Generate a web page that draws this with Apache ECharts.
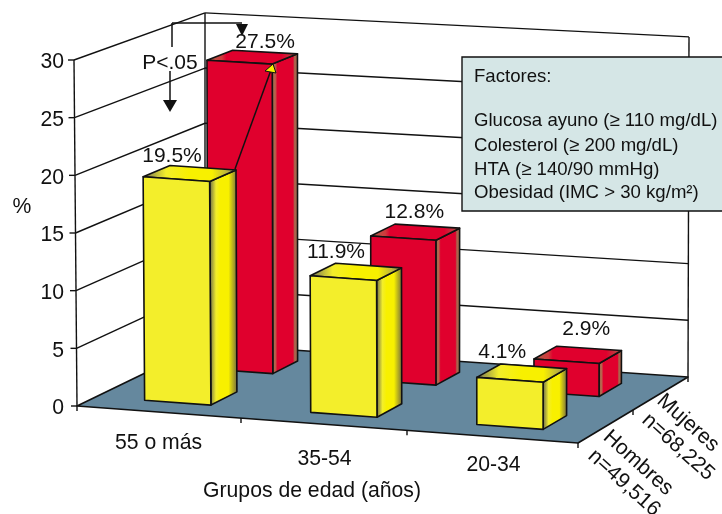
<!DOCTYPE html>
<html>
<head>
<meta charset="utf-8">
<style>html,body{margin:0;padding:0;background:#fff;overflow:hidden}#c{width:722px;height:514px}</style>
<script src="https://cdn.jsdelivr.net/npm/echarts@6/dist/echarts.min.js"></script>
</head>
<body>
<div id="c"></div>
<script>
const categories = ['55 o más', '35-54', '20-34'];
const hombres = [19.5, 11.9, 4.1];
const mujeres = [27.5, 12.8, 2.9];
const yTicks = [0, 5, 10, 15, 20, 25, 30];
const hombresLabel = ['Hombres', 'n=49,516'];
const mujeresLabel = ['Mujeres', 'n=68,225'];
const factores = ['Factores:', 'Glucosa ayuno (≥ 110 mg/dL)', 'Colesterol (≥ 200 mg/dL)', 'HTA (≥ 140/90 mmHg)', 'Obesidad (IMC > 30 kg/m²)'];

const FONT = '"Liberation Sans", Arial, sans-serif';
const AXIS_SIZE = 21.2;
const BLACK = '#111';
const LW = 1.4;

// depth projection of the floor, from the front plane of the grid into the chart's box
function floor(u, z) {
  return [77 + 501 * u + 128 * z - 18 * u * z, 406 + 37 * u - 62 * z - 4 * u * z];
}
function project(api, params, px, value, z) {
  const cs = params.coordSys;
  const u = (px - cs.x) / cs.width;
  const h = cs.y + cs.height - api.coord([0, value])[1];
  const f = floor(u, z);
  const s = 1 + z * (-0.043 + 0.026 * u);
  const lean = ((1 - u) * (1 - z) * -3 + u * z) * h / 346;
  return [f[0] + lean, f[1] - h * s];
}
const line = (a, b, w, c) => ({
  type: 'line',
  shape: {x1: a[0], y1: a[1], x2: b[0], y2: b[1]},
  style: {stroke: c || BLACK, lineWidth: w || LW}
});
const poly = (pts, fill, w) => ({
  type: 'polygon',
  shape: {points: pts},
  style: {fill: fill, stroke: BLACK, lineWidth: w || LW, lineJoin: 'round'}
});
const text = (t, x, y, size, rot) => ({
  type: 'text', x: x, y: y, rotation: rot || 0,
  style: {text: t, x: 0, y: 0, fill: BLACK, fontSize: size, fontFamily: FONT, align: 'center', verticalAlign: 'middle'}
});
const hgrad = (stops) => new echarts.graphic.LinearGradient(0, 0, 1, 0,
  stops.map(s => ({offset: s[0], color: s[1]})));

function renderFrame(params, api) {
  const cs = params.coordSys;
  const L = cs.x, R = cs.x + cs.width;
  const P = (px, v, z) => project(api, params, px, v, z);
  const kids = [];
  kids.push({type: 'polygon', shape: {points: [P(L, 0, 0), P(L, 30, 0), P(L, 30, 1), P(L, 0, 1)]}, style: {fill: '#fff'}});
  kids.push({type: 'polygon', shape: {points: [P(L, 0, 1), P(L, 30, 1), P(R, 30, 1), P(R, 0, 1)]}, style: {fill: '#fff'}});
  yTicks.forEach(t => {
    if (t > 0 && t < 30) {
      kids.push(line(P(L, t, 0), P(L, t, 1)));
      kids.push(line(P(L, t, 1), P(R, t, 1)));
    }
    const a = P(L, t, 0);
    kids.push(line([a[0] - 6, a[1]], a));
  });
  kids.push(line(P(L, 30, 0), P(L, 30, 1)));
  kids.push(line(P(L, 30, 1), P(R, 30, 1)));
  kids.push(line(P(L, 0, 0), P(L, 30, 0)));
  kids.push(line(P(L, 0, 1), P(L, 30, 1)));
  kids.push(line(P(R, 0, 1), P(R, 30, 1)));
  kids.push(poly([P(L, 0, 0), P(R, 0, 0), P(R, 0, 1), P(L, 0, 1)], '#65889E', 1.6));
  // ticks on the floor edges
  const band = cs.width / categories.length;
  for (let i = 0; i <= categories.length; i++) {
    const a = P(L + band * i - (i === 1 ? 3 : i === 2 ? 4 : 0), 0, 0);
    kids.push(line(a, [a[0], a[1] + 5]));
  }
  [0.5, 1].forEach(z => {
    const a = P(R, 0, z);
    kids.push(line(a, [a[0], a[1] + 5]));
  });
  return {type: 'group', children: kids};
}

// front-to-back position and look of each row of bars
const BAR_HALF = 0.0665;
const BAR_SHIFT = -1.5;
const hombresStyle = {
  z0: 0.15, z1: 0.36, front: '#F3EE2B',
  side: [[0, '#5c5a50'], [0.25, '#F3EE2B'], [0.4, '#F8F000'], [0.68, '#F8F000'], [1, '#6e6544']],
  top: [[0, '#6e6c58'], [0.25, '#F3EE2B'], [0.5, '#F8F000'], [0.74, '#F8F000'], [1, '#8f8768']]
};
const mujeresStyle = {
  z0: 0.65, z1: 0.85, front: '#E0002D',
  side: [[0, '#8a6a52'], [0.14, '#b9654c'], [0.22, '#E0002D'], [0.8, '#E0002D'], [0.86, '#a9654c'], [1, '#a9654c']],
  top: [[0, '#a9654c'], [0.17, '#d03a3c'], [0.22, '#E0002D'], [0.82, '#E0002D'], [1, '#a9654c']]
};
// nudges of the value labels, [dx, dy] from the rear-top-centre of the bar
const hombresNudge = [[-31, -12], [-32.5, -13.5], [-31.5, -14.5]];
const mujeresNudge = [[0, -10], [-13, -14], [-3, -19.5]];

function barRenderer(st, nudges) {
  return function (params, api) {
    const i = api.value(0), v = api.value(1);
    const cs = params.coordSys;
    const cx = api.coord([i, 0])[0] + BAR_SHIFT;
    const hw = BAR_HALF * cs.width;
    const P = (px, val, z) => project(api, params, px, val, z);
    const x0 = cx - hw, x1 = cx + hw;
    const fbl = P(x0, 0, st.z0), fbr = P(x1, 0, st.z0), bbr = P(x1, 0, st.z1);
    const ftl = P(x0, v, st.z0), ftr = P(x1, v, st.z0), btr = P(x1, v, st.z1), btl = P(x0, v, st.z1);
    const n = nudges[i];
    return {
      type: 'group',
      children: [
        poly([fbr, bbr, btr, ftr], hgrad(st.side), 1.6),
        poly([ftl, ftr, btr, btl], hgrad(st.top), 1.6),
        poly([fbl, fbr, ftr, ftl], st.front, 1.6),
        text(v.toFixed(1) + '%', (btl[0] + btr[0]) / 2 + n[0], (btl[1] + btr[1]) / 2 + n[1], 21)
      ]
    };
  };
}

const catLabelNudge = [[-2, 30.5], [-3, 34.5], [-1, 28.5]];
function renderCategory(params, api) {
  const i = api.value(0);
  const a = project(api, params, api.coord([i, 0])[0], 0, 0);
  const n = catLabelNudge[i];
  return text(categories[i], a[0] + n[0], a[1] + n[1], AXIS_SIZE);
}

const ROT = -42 * Math.PI / 180;
function renderDepth(params, api) {
  const P = (z) => project(api, params, params.coordSys.x + params.coordSys.width, 0, z);
  const h = P(0.25), m = P(0.75);
  return {
    type: 'group',
    children: [
      text(hombresLabel[0], h[0] + 32.5, h[1] + 36.5, AXIS_SIZE, ROT),
      text(hombresLabel[1], h[0] + 18.5, h[1] + 56.5, AXIS_SIZE, ROT),
      text(mujeresLabel[0], m[0] + 27.5, m[1] + 29.5, AXIS_SIZE, ROT),
      text(mujeresLabel[1], m[0] + 17.5, m[1] + 53.5, AXIS_SIZE, ROT)
    ]
  };
}

const factorY = [77, 121, 146, 170, 193];
const annLine = (x1, y1, x2, y2) => ({
  type: 'line', z: 50, shape: {x1, y1, x2, y2}, style: {stroke: BLACK, lineWidth: 1.5}
});
const annTri = (pts, fill) => ({
  type: 'polygon', z: 50, shape: {points: pts}, style: {fill: fill, stroke: BLACK, lineWidth: fill === BLACK ? 0 : 1}
});
const graphic = [
  {type: 'rect', z: 60, shape: {x: 462, y: 57, width: 270, height: 154}, style: {fill: '#D5E6E6', stroke: BLACK, lineWidth: 1.4}},
  ...factores.map((t, i) => ({
    type: 'text', z: 61, x: 474, y: factorY[i],
    style: {text: t, fill: BLACK, fontSize: 18.6, fontFamily: FONT, align: 'left', verticalAlign: 'middle'}
  })),
  {type: 'text', z: 50, x: 22, y: 207, style: {text: '%', fill: BLACK, fontSize: AXIS_SIZE, fontFamily: FONT, align: 'center', verticalAlign: 'middle'}},
  annLine(172, 23, 242, 23),
  annLine(172, 23, 172, 47),
  annTri([[236, 24], [248, 24], [242, 36]], BLACK),
  {type: 'text', z: 50, x: 170, y: 63, style: {text: 'P<.05', fill: BLACK, fontSize: 21, fontFamily: FONT, align: 'center', verticalAlign: 'middle'}},
  annLine(170, 71, 170, 101),
  annTri([[163, 100], [177, 100], [170, 112]], BLACK),
  annLine(235, 169, 271, 70),
  annTri([[265, 71], [273, 64], [276, 73]], '#F8F000')
];

const chart = echarts.init(document.getElementById('c'), null, {renderer: 'canvas'});
chart.setOption({
  animation: false,
  backgroundColor: '#fff',
  grid: {left: 77, width: 501, top: 60, height: 346, containLabel: false},
  xAxis: {
    type: 'category', data: categories,
    axisLine: {show: false}, axisTick: {show: false}, axisLabel: {show: false}, splitLine: {show: false},
    name: 'Grupos de edad (años)', nameLocation: 'middle', nameGap: 75,
    nameTextStyle: {fontSize: AXIS_SIZE, fontFamily: FONT, color: BLACK, padding: [0, 31, 0, 0]}
  },
  yAxis: {
    type: 'value', min: 0, max: 30, interval: 5,
    axisLine: {show: false}, axisTick: {show: false}, splitLine: {show: false},
    axisLabel: {margin: 13, fontSize: AXIS_SIZE, fontFamily: FONT, color: BLACK, verticalAlign: 'top', lineHeight: 5}
  },
  series: [
    {type: 'custom', name: 'frame', z: 1, data: [[0, 0]], encode: {x: 0, y: 1}, renderItem: renderFrame, silent: true},
    {type: 'custom', name: 'Mujeres', z: 2, data: mujeres.map((v, i) => [i, v]), encode: {x: 0, y: 1}, renderItem: barRenderer(mujeresStyle, mujeresNudge)},
    {type: 'custom', name: 'Hombres', z: 3, data: hombres.map((v, i) => [i, v]), encode: {x: 0, y: 1}, renderItem: barRenderer(hombresStyle, hombresNudge)},
    {type: 'custom', name: 'categories', z: 4, data: categories.map((c, i) => [i, 0]), encode: {x: 0, y: 1}, renderItem: renderCategory, silent: true},
    {type: 'custom', name: 'depth', z: 4, data: [[0, 0]], encode: {x: 0, y: 1}, renderItem: renderDepth, silent: true}
  ],
  graphic: graphic
});
</script>
</body>
</html>
